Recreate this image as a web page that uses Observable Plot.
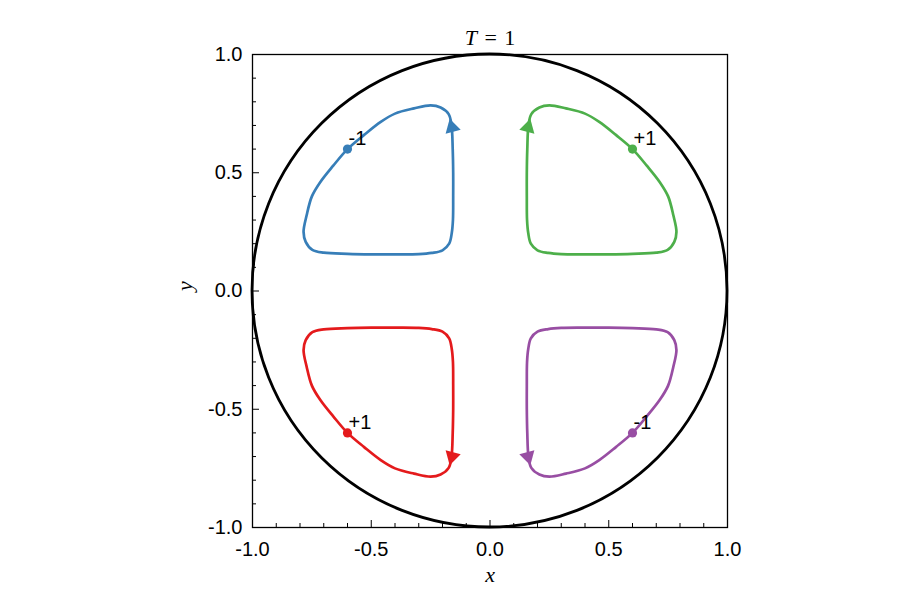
<!DOCTYPE html>
<html><head><meta charset="utf-8">
<script src="https://cdn.jsdelivr.net/npm/d3@7"></script>
<script src="https://cdn.jsdelivr.net/npm/@observablehq/plot@0.6"></script>
<style>body{margin:0;background:#fff}</style>
</head><body><div id="chart"></div>
<script>
// ---- data ----
const blueX = [-0.60,-0.66,-0.715,-0.75,-0.772,-0.785,-0.776,-0.748,-0.70,-0.60,-0.50,-0.40,-0.30,-0.245,-0.20,-0.172,-0.161,-0.156,-0.155,-0.155,-0.157,-0.162,-0.174,-0.208,-0.25,-0.32,-0.40,-0.46,-0.53];
const blueY = [0.60,0.53,0.46,0.40,0.32,0.25,0.208,0.174,0.162,0.157,0.155,0.155,0.156,0.161,0.172,0.20,0.245,0.30,0.40,0.50,0.60,0.70,0.748,0.776,0.785,0.772,0.75,0.715,0.66];
const greenX = [0.60,0.66,0.715,0.75,0.772,0.785,0.776,0.748,0.70,0.60,0.50,0.40,0.30,0.245,0.20,0.172,0.161,0.156,0.155,0.155,0.157,0.162,0.174,0.208,0.25,0.32,0.40,0.46,0.53];
const greenY = [0.60,0.53,0.46,0.40,0.32,0.25,0.208,0.174,0.162,0.157,0.155,0.155,0.156,0.161,0.172,0.20,0.245,0.30,0.40,0.50,0.60,0.70,0.748,0.776,0.785,0.772,0.75,0.715,0.66];
const redX = [-0.60,-0.66,-0.715,-0.75,-0.772,-0.785,-0.776,-0.748,-0.70,-0.60,-0.50,-0.40,-0.30,-0.245,-0.20,-0.172,-0.161,-0.156,-0.155,-0.155,-0.157,-0.162,-0.174,-0.208,-0.25,-0.32,-0.40,-0.46,-0.53];
const redY = [-0.60,-0.53,-0.46,-0.40,-0.32,-0.25,-0.208,-0.174,-0.162,-0.157,-0.155,-0.155,-0.156,-0.161,-0.172,-0.20,-0.245,-0.30,-0.40,-0.50,-0.60,-0.70,-0.748,-0.776,-0.785,-0.772,-0.75,-0.715,-0.66];
const purpleX = [0.60,0.66,0.715,0.75,0.772,0.785,0.776,0.748,0.70,0.60,0.50,0.40,0.30,0.245,0.20,0.172,0.161,0.156,0.155,0.155,0.157,0.162,0.174,0.208,0.25,0.32,0.40,0.46,0.53];
const purpleY = [-0.60,-0.53,-0.46,-0.40,-0.32,-0.25,-0.208,-0.174,-0.162,-0.157,-0.155,-0.155,-0.156,-0.161,-0.172,-0.20,-0.245,-0.30,-0.40,-0.50,-0.60,-0.70,-0.748,-0.776,-0.785,-0.772,-0.75,-0.715,-0.66];

const loopNames = ["loop A", "loop B", "loop C", "loop D"];
const loopColors = ["#377eb8", "#4daf4a", "#e41a1c", "#984ea3"];

const dotX = [-0.6, 0.6, -0.6, 0.6];
const dotY = [0.6, 0.6, -0.6, -0.6];
const dotLabels = ["-1", "+1", "+1", "-1"];

const arrowX = [-0.16, 0.16, -0.16, 0.16];
const arrowY = [0.692, 0.692, -0.70, -0.70];
const arrowAngle = [-15, 15, 195, 165];

const circleCenter = [0, 0];
const circleRadius = 1;

const majorTicks = [-1, -0.5, 0, 0.5, 1];
const minorTicks = [-0.9,-0.8,-0.7,-0.6,-0.4,-0.3,-0.2,-0.1,0.1,0.2,0.3,0.4,0.6,0.7,0.8,0.9];
const titleText = "T = 1";
const xLabel = "x";
const yLabel = "y";

// ---- tables ----
const loopXs = [blueX, greenX, redX, purpleX];
const loopYs = [blueY, greenY, redY, purpleY];
const loopRows = [];
loopNames.forEach((name, i) => {
  loopXs[i].forEach((x, j) => loopRows.push({loop: name, x, y: loopYs[i][j]}));
});
const dotRows = loopNames.map((name, i) => ({loop: name, x: dotX[i], y: dotY[i], label: dotLabels[i]}));
const arrowRows = loopNames.map((name, i) => ({loop: name, x: arrowX[i], y: arrowY[i], angle: arrowAngle[i]}));

function unitCircle(index, scales) {
  const {x, y} = scales;
  const g = d3.create("svg:g");
  g.append("ellipse")
    .attr("cx", x(circleCenter[0]))
    .attr("cy", y(circleCenter[1]))
    .attr("rx", Math.abs(x(circleCenter[0] + circleRadius) - x(circleCenter[0])))
    .attr("ry", Math.abs(y(circleCenter[1] + circleRadius) - y(circleCenter[1])))
    .attr("fill", "none")
    .attr("stroke", "black")
    .attr("stroke-width", 2.8);
  return g.node();
}

const fmt = d => d.toFixed(1);

const chart = Plot.plot({
  width: 900,
  height: 612,
  marginLeft: 252,
  marginRight: 173,
  marginTop: 54,
  marginBottom: 85,
  style: {fontFamily: "Liberation Sans, Arial, sans-serif", fontSize: "20px", color: "black", background: "white"},
  x: {domain: [-1, 1], label: null},
  y: {domain: [-1, 1], label: null},
  color: {type: "ordinal", domain: loopNames, range: loopColors},
  marks: [
    unitCircle,
    Plot.line(loopRows, {x: "x", y: "y", z: "loop", stroke: "loop", curve: "catmull-rom-closed", strokeWidth: 2.7}),
    Plot.dot(dotRows, {x: "x", y: "y", fill: "loop", r: 4.6}),
    Plot.dot(arrowRows, {x: "x", y: "y", fill: "loop", symbol: "triangle", r: 5.8, rotate: "angle"}),
    Plot.text(dotRows, {x: "x", y: "y", text: "label", textAnchor: "start", lineAnchor: "bottom", dx: 1, dy: -4, fontSize: 20, fill: "black"}),
    Plot.frame({stroke: "black", strokeWidth: 1.3}),
    Plot.axisX({ticks: majorTicks, tickSize: -7, tickPadding: 21, tickFormat: fmt, fontSize: 20, label: null, stroke: "black", strokeWidth: 1}),
    Plot.axisX({ticks: minorTicks, tickSize: -4, tickFormat: () => "", label: null, stroke: "black", strokeWidth: 1}),
    Plot.axisY({ticks: majorTicks, tickSize: -7, tickPadding: 17, tickFormat: fmt, fontSize: 20, label: null, stroke: "black", strokeWidth: 1}),
    Plot.axisY({ticks: minorTicks, tickSize: -4, tickFormat: () => "", label: null, stroke: "black", strokeWidth: 1}),
    Plot.text([titleText], {text: d => d, frameAnchor: "top", lineAnchor: "bottom", dy: -10, fontSize: 22, fontFamily: "Liberation Serif, serif", fill: "black"}),
    Plot.text([xLabel], {text: d => d, frameAnchor: "bottom", dy: 54, fontSize: 22, fontStyle: "italic", fontFamily: "Liberation Serif, serif", fill: "black"}),
    Plot.text([yLabel], {text: d => d, frameAnchor: "left", dx: -68, rotate: -90, fontSize: 22, fontStyle: "italic", fontFamily: "Liberation Serif, serif", fill: "black"})
  ]
});

d3.select(chart).selectAll("text").filter(function() { return this.textContent === titleText; }).each(function() {
  const t = d3.select(this);
  t.text("");
  t.append("tspan").attr("font-style", "italic").text("T");
  t.append("tspan").text("\u2004=\u20041");
});

document.getElementById("chart").appendChild(chart);
</script>
</body></html>
